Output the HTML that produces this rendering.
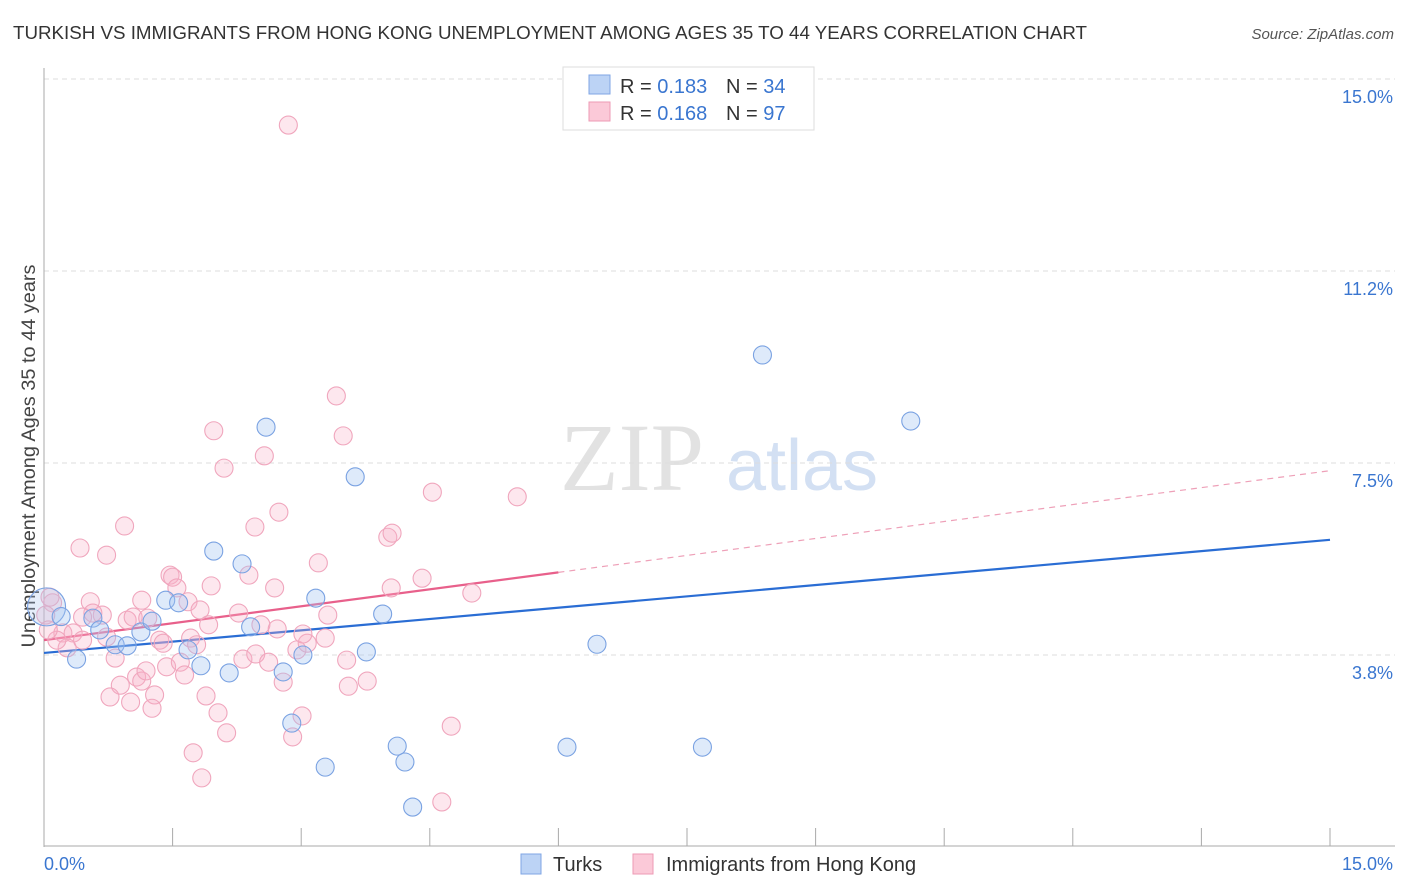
<!DOCTYPE html>
<html><head><meta charset="utf-8"><style>
body{margin:0;background:#fff;font-family:"Liberation Sans",sans-serif;}
svg{display:block}
</style></head><body>
<svg id="chart" width="1406" height="892" viewBox="0 0 1406 892" xmlns="http://www.w3.org/2000/svg">
<text x="13" y="39" font-size="18" fill="#333" textLength="1074" lengthAdjust="spacingAndGlyphs">TURKISH VS IMMIGRANTS FROM HONG KONG UNEMPLOYMENT AMONG AGES 35 TO 44 YEARS CORRELATION CHART</text>
<text x="1394" y="39" font-size="15" fill="#555" font-style="italic" text-anchor="end">Source: ZipAtlas.com</text>
<text transform="translate(35,456) rotate(-90)" font-size="19" fill="#444" text-anchor="middle" textLength="383" lengthAdjust="spacingAndGlyphs">Unemployment Among Ages 35 to 44 years</text>
<g>
<text x="632" y="490" font-family="Liberation Serif,serif" font-size="96" fill="#e2e2e2" text-anchor="middle">ZIP</text>
<text x="802" y="490" font-size="72" fill="#d3e0f3" text-anchor="middle">atlas</text>
</g>
<g id="grid"></g><g id="axes"></g><g id="trend"></g><g id="pts"></g>
<g>
<rect x="563" y="67" width="251" height="63" fill="#fff" stroke="#ddd"/>
<rect x="589" y="75" width="21" height="19" fill="#bcd3f5" stroke="#7fa6e4"/>
<text x="620" y="93" font-size="20" fill="#333">R = <tspan fill="#3a76d0">0.183</tspan></text>
<text x="726" y="93" font-size="20" fill="#333">N = <tspan fill="#3a76d0">34</tspan></text>
<rect x="589" y="102" width="21" height="19" fill="#fbc9d8" stroke="#ee9ab4"/>
<text x="620" y="120" font-size="20" fill="#333">R = <tspan fill="#3a76d0">0.168</tspan></text>
<text x="726" y="120" font-size="20" fill="#333">N = <tspan fill="#3a76d0">97</tspan></text>
</g>
<g>
<rect x="521" y="854" width="20" height="20" fill="#bcd3f5" stroke="#7fa6e4"/>
<text x="553" y="871" font-size="20" fill="#333">Turks</text>
<rect x="633" y="854" width="20" height="20" fill="#fbc9d8" stroke="#ee9ab4"/>
<text x="666" y="871" font-size="20" fill="#333">Immigrants from Hong Kong</text>
</g>
</svg>
<script>
const yTicks=[3.75,7.5,11.25,15];
const yTickLabels=["3.8%","7.5%","11.2%","15.0%"];
const xTickCount=10;
const turksX=[0.03,0.38,0.57,0.65,0.83,0.97,1.13,1.26,1.42,1.57,1.68,1.83,1.98,2.16,2.31,2.41,2.59,2.79,2.89,3.02,3.17,3.28,3.63,3.76,3.95,4.12,4.21,4.30,6.10,6.45,7.68,8.38,10.11,0.2];
const turksY=[4.69,3.67,4.47,4.24,3.95,3.93,4.20,4.41,4.82,4.77,3.85,3.54,5.78,3.40,5.53,4.30,8.20,3.42,2.42,3.75,4.86,1.56,7.23,3.81,4.55,1.97,1.66,0.78,1.95,3.96,1.95,9.61,8.32,4.5];
const hkX=[0.42,0.73,0.94,0.54,0.68,0.57,0.45,0.10,0.07,0.22,0.34,0.27,0.15,0.45,0.73,0.83,0.89,0.77,1.01,1.08,1.14,1.19,1.29,1.26,0.97,1.14,1.04,1.21,1.47,1.50,1.55,1.68,1.82,1.35,1.39,1.43,1.59,1.64,1.71,1.78,1.95,1.89,2.03,2.13,1.74,1.84,2.27,2.46,2.74,2.39,2.69,1.92,2.32,2.47,2.62,2.53,2.72,2.79,2.90,3.01,2.95,3.07,3.02,3.20,3.31,3.28,3.53,3.55,3.77,4.01,4.06,4.41,4.05,4.99,4.75,4.64,2.85,3.41,3.49,1.98,2.10,2.57,4.53,5.52,0.02,0.05];
const hkY=[5.84,5.70,6.27,4.79,4.53,4.57,4.49,4.77,4.88,4.18,4.18,3.89,4.04,4.04,4.10,3.69,3.16,2.93,2.83,3.32,3.24,3.44,2.97,2.71,4.43,4.82,4.49,4.47,5.31,5.27,5.06,4.79,4.63,4.04,3.98,3.52,3.61,3.36,4.08,3.95,5.10,2.95,2.62,2.23,1.84,1.35,4.57,6.25,6.54,5.31,5.06,4.34,3.67,3.77,3.61,4.34,4.26,3.22,2.15,2.56,3.85,3.98,4.16,5.55,4.53,4.08,3.65,3.14,3.24,6.05,6.13,5.25,5.06,4.96,2.36,0.88,14.10,8.81,8.03,8.13,7.40,7.64,6.93,6.84,4.53,4.24];
const turksTrend=[3.79,6.0];
const hkTrend=[4.04,7.35];
const hkSolidEnd=6.0;
const X=v=>44+v/15*1286, Y=v=>847-v/15*768;
const NS="http://www.w3.org/2000/svg";
function mk(p,t,a){const e=document.createElementNS(NS,t);for(const k in a)e.setAttribute(k,a[k]);document.getElementById(p).appendChild(e);return e;}
yTicks.forEach((t,i)=>{
 const g=mk('grid','line',{x1:44,x2:1395,y1:Y(t),y2:Y(t),stroke:'#ddd','stroke-dasharray':'5,4'});
 
 
 const l=mk('axes','text',{x:1393,y:Y(t)+24,'font-size':18,fill:'#3a76d0','text-anchor':'end'});
 l.textContent=yTickLabels[i];
 
 
});
const ax=mk('axes','line',{x1:44,x2:44,y1:68,y2:847,stroke:'#aaa'});


const bx=mk('axes','line',{x1:44,x2:1395,y1:846,y2:846,stroke:'#aaa'});


for(let i=1;i<=xTickCount;i++){const t=mk('axes','line',{x1:X(i*1.5),x2:X(i*1.5),y1:828,y2:846,stroke:'#aaa'});
 
 }
const x0=mk('axes','text',{x:44,y:870,'font-size':18,fill:'#3a76d0'});x0.textContent='0.0%';


const x1=mk('axes','text',{x:1393,y:870,'font-size':18,fill:'#3a76d0','text-anchor':'end'});x1.textContent='15.0%';


hkX.forEach((x,i)=>{const c=mk('pts','circle',{cx:X(x),cy:Y(hkY[i]),r:9,fill:'rgba(248,175,199,0.3)',stroke:'#f0a6bd','stroke-width':1.1});
 
 });
turksX.forEach((x,i)=>{const c=mk('pts','circle',{cx:X(x),cy:Y(turksY[i]),r:i==0?19:9,fill:i==0?'rgba(170,195,235,0.3)':'rgba(160,195,240,0.35)',stroke:'#7aa2e2','stroke-width':1.1});
 
 });
const hs=(hkTrend[1]-hkTrend[0])/15;
const l1=mk('trend','line',{x1:X(0),y1:Y(turksTrend[0]),x2:X(15),y2:Y(turksTrend[1]),stroke:'#2a6dd4','stroke-width':2.2});


const l2=mk('trend','line',{x1:X(0),y1:Y(hkTrend[0]),x2:X(hkSolidEnd),y2:Y(hkTrend[0]+hs*hkSolidEnd),stroke:'#e8608b','stroke-width':2.2});


const l3=mk('trend','line',{x1:X(hkSolidEnd),y1:Y(hkTrend[0]+hs*hkSolidEnd),x2:X(15),y2:Y(hkTrend[1]),stroke:'#eea0b8','stroke-width':1.2,'stroke-dasharray':'6,5'});


</script>
</body></html>
